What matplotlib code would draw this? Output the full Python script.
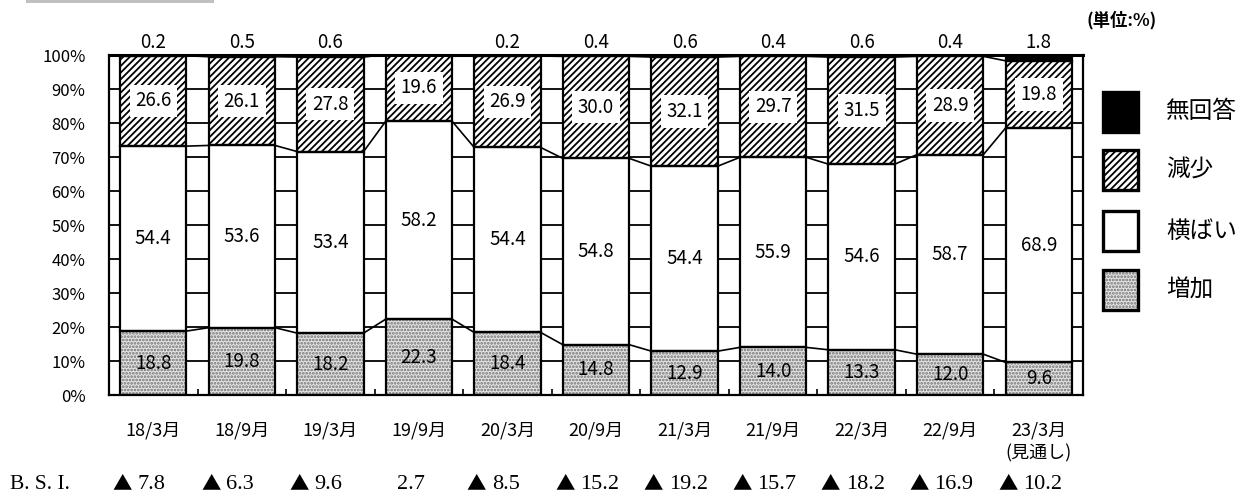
import numpy as np
import matplotlib.pyplot as plt
from matplotlib.patches import Rectangle

plt.rcParams['font.family'] = ['Noto Sans CJK JP', 'DejaVu Sans']
plt.rcParams['hatch.linewidth'] = 1.3

periods = ['18/3月', '18/9月', '19/3月', '19/9月', '20/3月', '20/9月',
           '21/3月', '21/9月', '22/3月', '22/9月', '23/3月\n(見通し)']
zouka = [18.8, 19.8, 18.2, 22.3, 18.4, 14.8, 12.9, 14.0, 13.3, 12.0, 9.6]
yokobai = [54.4, 53.6, 53.4, 58.2, 54.4, 54.8, 54.4, 55.9, 54.6, 58.7, 68.9]
gensho = [26.6, 26.1, 27.8, 19.6, 26.9, 30.0, 32.1, 29.7, 31.5, 28.9, 19.8]
mukaito = [0.2, 0.5, 0.6, 0.0, 0.2, 0.4, 0.6, 0.4, 0.6, 0.4, 1.8]
# B.S.I. (増加 - 減少), ▲ marks a negative value
bsi = [-7.8, -6.3, -9.6, 2.7, -8.5, -15.2, -19.2, -15.7, -18.2, -16.9, -10.2]

W, H = 1240, 494
fig = plt.figure(figsize=(W / 100, H / 100), dpi=100)
ax = fig.add_axes([109 / W, 1 - 395 / H, (1083 - 109) / W, 340 / H])

x = np.arange(len(periods))
w = 0.75
z = np.array(zouka)
y = np.array(yokobai)
g = np.array(gensho)
m = np.array(mukaito)
serif = ['Liberation Serif', 'Noto Sans CJK JP']


def stack(vals, bottom, face, hatch=None, hcolor='black'):
    ax.bar(x, vals, w, bottom=bottom, color=face, hatch=hatch,
           edgecolor=hcolor, linewidth=0, zorder=2)
    ax.bar(x, vals, w, bottom=bottom, fill=False, edgecolor='black',
           linewidth=1.6, zorder=3)


stack(z, 0, '#e4e4e4', '.....', '#707070')
stack(y, z, 'white')
stack(g, z + y, 'white', '/////', 'black')
stack(m, z + y + g, 'black')

# connector lines between neighbouring bars
for level in [z, z + y, z + y + g]:
    for i in range(len(x) - 1):
        ax.plot([x[i] + w / 2, x[i + 1] - w / 2], [level[i], level[i + 1]],
                color='black', lw=1.2, zorder=2)

# value labels
fs = 13.5
bsi_y = -26.2
for i in range(len(x)):
    ax.text(x[i], z[i] / 2, f'{zouka[i]:.1f}', ha='center', va='center',
            fontsize=fs, zorder=4)
    ax.text(x[i], z[i] + y[i] / 2, f'{yokobai[i]:.1f}', ha='center',
            va='center', fontsize=fs, zorder=4)
    ax.text(x[i], z[i] + y[i] + g[i] / 2, f'{gensho[i]:.1f}', ha='center',
            va='center', fontsize=fs, zorder=4,
            bbox=dict(boxstyle='square,pad=0.3', fc='white', ec='none'))
    if mukaito[i] > 0:
        ax.text(x[i], 103.8, f'{mukaito[i]:.1f}', ha='center', va='center',
                fontsize=fs)
    if bsi[i] < 0:
        tri = ax.text(x[i] - 0.35, bsi_y, '▲', ha='center', va='center',
                      fontsize=14, clip_on=False)
        ax.annotate(f'{-bsi[i]:.1f}', xy=(1, 0.5), xycoords=tri,
                    xytext=(4, 0), textcoords='offset points', ha='left',
                    va='center', fontsize=16, family=serif)
    else:
        ax.text(x[i] - 0.09, bsi_y, f'{bsi[i]:.1f}', ha='center',
                va='center', fontsize=16, family=serif, clip_on=False)
ax.text(-1.28, bsi_y, 'B. S. I.', ha='center', va='center', fontsize=15.5,
        family=serif)

ax.set_xlim(-0.5, len(x) - 0.5)
ax.set_ylim(0, 100)
ax.set_yticks(np.arange(0, 101, 10))
ax.set_yticklabels([f'{v}%' for v in range(0, 101, 10)], fontsize=12)
ax.tick_params(axis='y', length=0, pad=17)
ax.set_xticks(x)
ax.set_xticklabels(periods, fontsize=13, linespacing=1.35)
ax.tick_params(axis='x', length=0, pad=19)
ax.set_xticks(x[:-1] + 0.5, minor=True)
ax.tick_params(axis='x', which='minor', direction='in', length=4, width=1.2)
ax.yaxis.grid(True, color='black', lw=1.3)
ax.set_axisbelow(True)
for s in ax.spines.values():
    s.set_linewidth(1.6)
ax.spines['top'].set_linewidth(2.2)

fig.text(1122 / W, 1 - 20 / H, '(単位:%)', ha='center', va='center',
         fontsize=12.5, weight='bold')
fig.patches.append(Rectangle((26 / W, 1 - 3 / H), 188 / W, 3 / H,
                             transform=fig.transFigure, fc='#c0c0c0',
                             ec='none'))

# legend drawn by hand on the right
legend = [('無回答', 'black', None, '#000000', 92),
          ('減少', 'white', '/////', 'black', 150),
          ('横ばい', 'white', None, 'black', 211),
          ('増加', '#e4e4e4', '.....', '#707070', 270)]
for name, face, hatch, hc, top in legend:
    r = Rectangle((1103 / W, 1 - (top + 40) / H), 35 / W, 40 / H,
                  transform=fig.transFigure, fc=face, hatch=hatch,
                  ec=hc, lw=0)
    fig.patches.append(r)
    fig.patches.append(Rectangle((1103 / W, 1 - (top + 40) / H), 35 / W,
                                 40 / H, transform=fig.transFigure,
                                 fill=False, ec='black', lw=2.4))
    fig.text(1166 / W, 1 - (top + 20) / H, name, ha='left', va='center',
             fontsize=17)

fig.savefig('out.png', dpi=100)
